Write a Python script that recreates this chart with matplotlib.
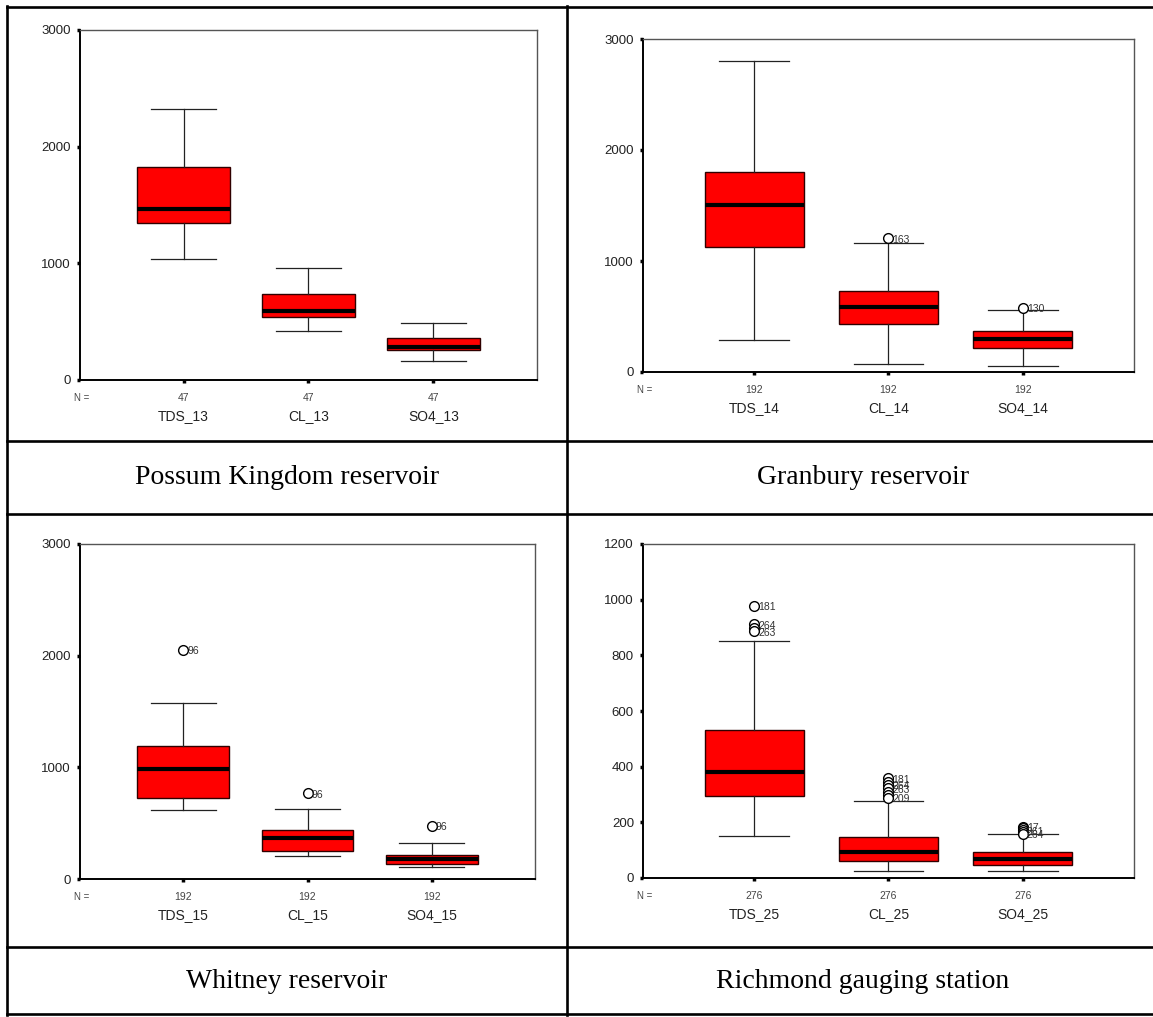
import matplotlib
matplotlib.use("Agg")
import matplotlib.pyplot as plt
from matplotlib.lines import Line2D

W, H = 1153, 1017

# Box statistics: low whisker, Q1, median, Q3, high whisker
possum_names = ["TDS_13", "CL_13", "SO4_13"]
possum_n = [47, 47, 47]
possum_stats = [
    [1040, 1346, 1469, 1823, 2323],
    [420, 543, 591, 734, 957],
    [160, 254, 286, 363, 486],
]
possum_fliers = [[], [], []]
possum_flier_labels = [[], [], []]

granbury_names = ["TDS_14", "CL_14", "SO4_14"]
granbury_n = [192, 192, 192]
granbury_stats = [
    [285, 1126, 1502, 1805, 2798],
    [69, 432, 583, 727, 1165],
    [57, 219, 297, 365, 556],
]
granbury_fliers = [[], [1204], [577]]
granbury_flier_labels = [[], ["163"], ["130"]]

whitney_names = ["TDS_15", "CL_15", "SO4_15"]
whitney_n = [192, 192, 192]
whitney_stats = [
    [617, 724, 982, 1193, 1576],
    [208, 255, 371, 436, 629],
    [110, 131, 181, 217, 323],
]
whitney_fliers = [[2050], [769], [475]]
whitney_flier_labels = [["96"], ["96"], ["96"]]

richmond_names = ["TDS_25", "CL_25", "SO4_25"]
richmond_n = [276, 276, 276]
richmond_stats = [
    [152, 294, 382, 531, 852],
    [26, 61, 93, 148, 275],
    [24, 45, 67, 92, 157],
]
richmond_fliers = [
    [977, 911, 899, 887],
    [358, 346, 334, 322, 310, 298, 288],
    [185, 178, 172, 165, 158],
]
# labels sit on top of each other in the source too
richmond_flier_labels = [
    ["181", "264", "", "263"],
    ["181", "", "264", "263", "", "", "209"],
    ["17", "", "261", "", "264"],
]

captions = ["Possum Kingdom reservoir", "Granbury reservoir",
            "Whitney reservoir", "Richmond gauging station"]


def px_axes(fig, left, top, right, bottom):
    return fig.add_axes([left / W, 1 - bottom / H, (right - left) / W, (bottom - top) / H])


def draw_panel(ax, names, counts, stats, fliers, flier_labels, ymax, ystep):
    bxp_stats = []
    for name, s, fl in zip(names, stats, fliers):
        bxp_stats.append(dict(label=name, whislo=s[0], q1=s[1], med=s[2],
                              q3=s[3], whishi=s[4], fliers=fl))
    ax.bxp(bxp_stats, positions=[1, 2, 3], widths=0.74, capwidths=0.52,
           patch_artist=True, showfliers=True,
           boxprops=dict(facecolor="#ff0000", edgecolor="#300000", linewidth=1.0),
           medianprops=dict(color="black", linewidth=3.0),
           whiskerprops=dict(color="#222222", linewidth=0.9),
           capprops=dict(color="#222222", linewidth=0.9),
           flierprops=dict(marker="o", markersize=7, markerfacecolor="white",
                           markeredgecolor="black", markeredgewidth=1.0,
                           linestyle="none"))
    for i, (fl, labs) in enumerate(zip(fliers, flier_labels)):
        for v, lab in zip(fl, labs):
            if lab:
                ax.annotate(lab, xy=(i + 1, v), xytext=(3, -1), textcoords="offset points",
                            ha="left", va="center", fontsize=7.5, color="#333333")

    ax.set_xlim(0.17, 3.83)
    ax.set_ylim(0, ymax)
    ax.set_yticks(range(0, ymax + 1, ystep))
    ax.set_xticks([1, 2, 3])
    ax.set_xticklabels([])
    ax.tick_params(axis="both", direction="out", length=2.5, width=2.5, color="black")
    ax.tick_params(axis="y", labelsize=9.5, labelcolor="#222222", pad=4)
    for side in ("top", "right"):
        ax.spines[side].set_color("#555555")
        ax.spines[side].set_linewidth(1.0)
    for side in ("left", "bottom"):
        ax.spines[side].set_color("black")
        ax.spines[side].set_linewidth(1.4)

    ax.annotate("N =", xy=(0, 0), xycoords="axes fraction", xytext=(2, -18),
                textcoords="offset pixels", ha="center", va="center",
                fontsize=7, color="#444444")
    for i, (name, n) in enumerate(zip(names, counts)):
        ax.annotate(str(n), xy=(i + 1, 0), xycoords=("data", "axes fraction"),
                    xytext=(0, -18), textcoords="offset pixels", ha="center",
                    va="center", fontsize=7.5, color="#444444")
        ax.annotate(name, xy=(i + 1, 0), xycoords=("data", "axes fraction"),
                    xytext=(0, -36), textcoords="offset pixels", ha="center",
                    va="center", fontsize=10, color="#222222")


plt.rcParams["font.family"] = ["Liberation Sans", "DejaVu Sans"]
fig = plt.figure(figsize=(W / 100, H / 100), dpi=100)

ax1 = px_axes(fig, 80, 30, 537, 380)
draw_panel(ax1, possum_names, possum_n, possum_stats, possum_fliers,
           possum_flier_labels, 3000, 1000)
ax2 = px_axes(fig, 643, 39, 1134, 372)
draw_panel(ax2, granbury_names, granbury_n, granbury_stats, granbury_fliers,
           granbury_flier_labels, 3000, 1000)
ax3 = px_axes(fig, 80, 544, 535, 879)
draw_panel(ax3, whitney_names, whitney_n, whitney_stats, whitney_fliers,
           whitney_flier_labels, 3000, 1000)
ax4 = px_axes(fig, 643, 544, 1134, 878)
draw_panel(ax4, richmond_names, richmond_n, richmond_stats, richmond_fliers,
           richmond_flier_labels, 1200, 200)

# table grid lines
def hline(y, x0=7, x1=1153):
    fig.add_artist(Line2D([x0 / W, x1 / W], [1 - y / H, 1 - y / H],
                          color="black", linewidth=1.9))


def vline(x, y0=6, y1=1015):
    fig.add_artist(Line2D([x / W, x / W], [1 - y0 / H, 1 - y1 / H],
                          color="black", linewidth=1.9))


for y in (6.5, 441, 514, 947, 1014):
    hline(y)
vline(7)
vline(567)

for cap, (cx, cy) in zip(captions, [(287, 478), (863, 478), (287, 982), (863, 982)]):
    fig.text(cx / W, 1 - cy / H, cap, ha="center", va="center", fontsize=20,
             family=["Liberation Serif", "DejaVu Serif"], color="black")

fig.savefig("out.png", dpi=100)
